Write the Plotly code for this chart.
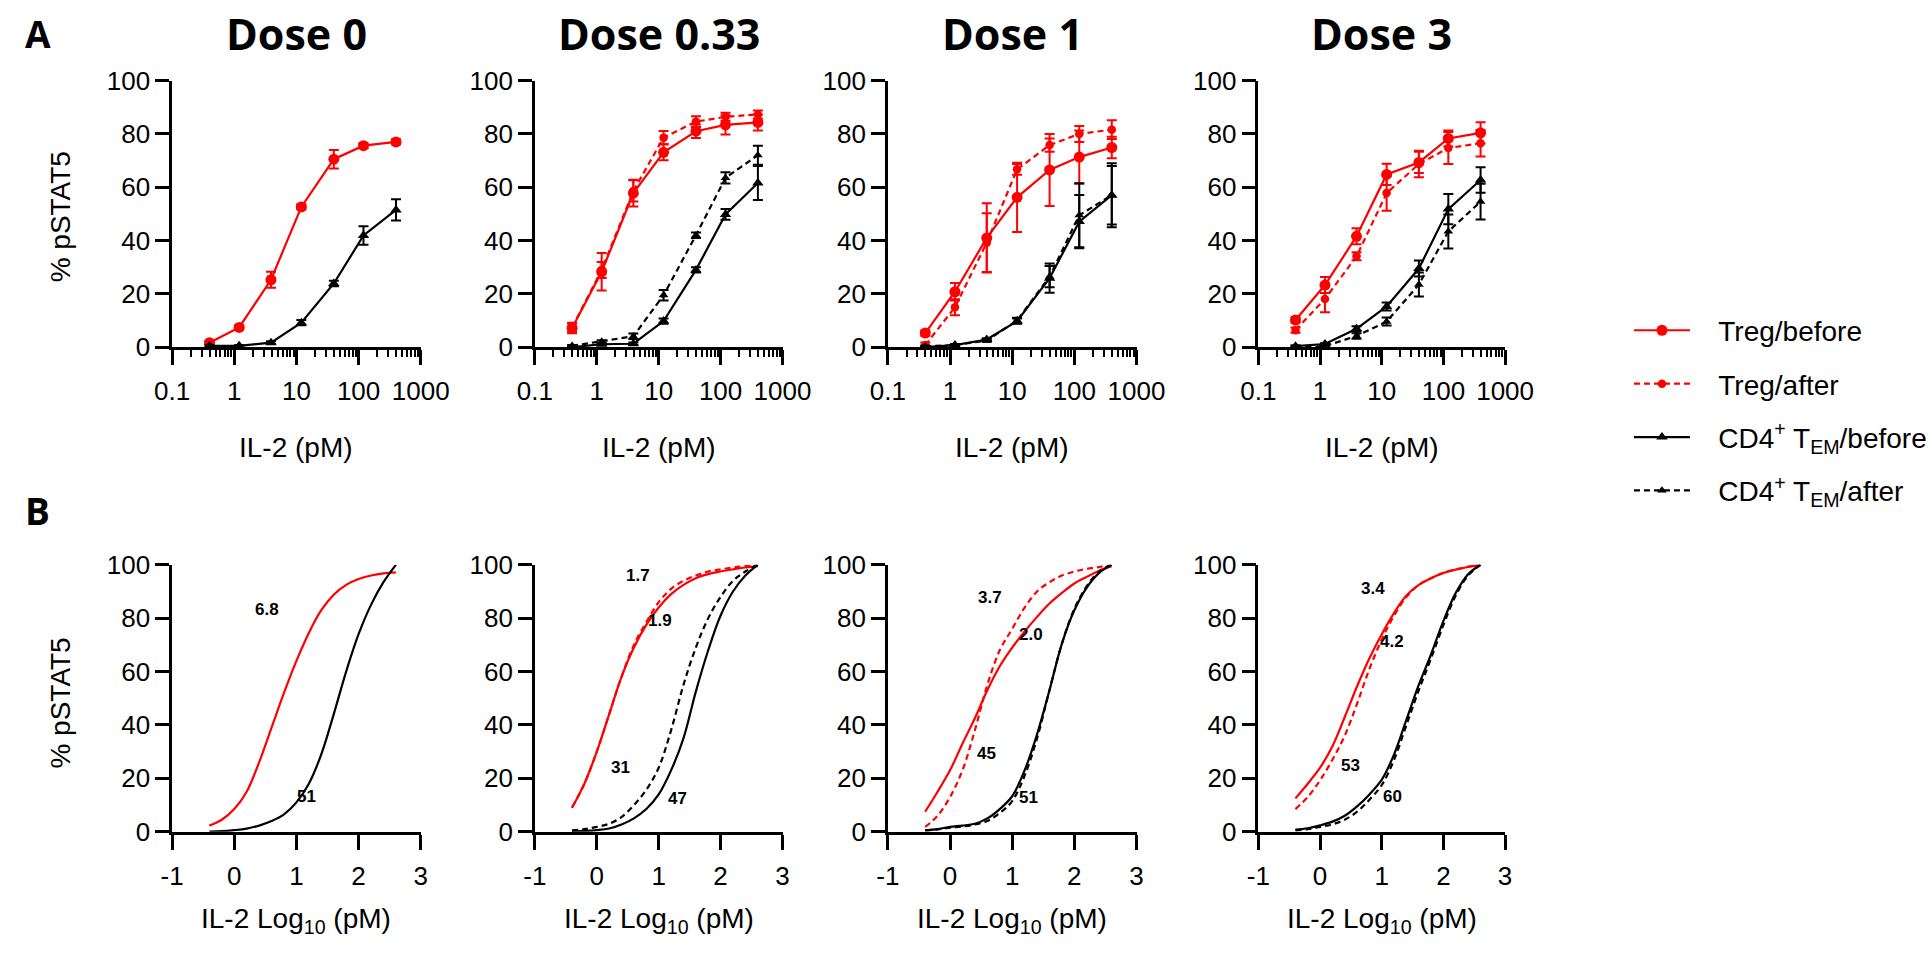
import plotly.graph_objects as go

# ---------------- data ----------------
DOSES = ["Dose 0", "Dose 0.33", "Dose 1", "Dose 3"]
CONC = [0.4, 1.2, 3.9, 12, 40, 120, 400]          # IL-2 (pM)

TREG_BEFORE = [
    [1.7, 7.4, 25.3, 52.6, 70.5, 75.6, 77.0],
    [7.2, 28.3, 57.8, 73.1, 81.0, 83.4, 84.3],
    [5.3, 20.8, 41.0, 56.2, 66.5, 71.3, 74.9],
    [10.2, 23.3, 41.6, 64.8, 69.3, 78.3, 80.4],
]
TREG_BEFORE_ERR = [
    [0.5, 0.8, 3.0, 1.0, 3.5, 1.0, 1.0],
    [2.0, 7.0, 5.0, 3.0, 2.5, 3.6, 3.0],
    [1.0, 3.3, 13.0, 13.0, 13.5, 10.0, 4.0],
    [1.0, 3.0, 3.0, 4.0, 4.0, 3.0, 4.0],
]
TREG_AFTER = [
    None,
    [7.4, 29.0, 58.6, 78.6, 84.6, 86.4, 87.3],
    [0.8, 15.0, 39.2, 66.7, 75.8, 80.0, 81.6],
    [6.4, 18.1, 34.1, 57.8, 68.7, 74.7, 76.5],
]
TREG_AFTER_ERR = [
    None,
    [1.5, 3.0, 4.0, 2.5, 2.0, 1.5, 1.5],
    [1.0, 3.0, 11.0, 2.0, 2.5, 3.0, 3.5],
    [1.0, 5.0, 1.5, 6.6, 5.0, 6.0, 5.0],
]
CD4_BEFORE = [
    [0.5, 0.5, 1.7, 9.2, 23.9, 41.9, 51.5],
    [0.0, 1.1, 1.3, 9.8, 29.0, 49.8, 61.6],
    [0.0, 0.8, 2.9, 9.8, 25.9, 47.1, 57.0],
    [0.4, 1.2, 6.9, 15.3, 29.5, 51.8, 62.7],
]
CD4_BEFORE_ERR = [
    [0.3, 0.3, 0.5, 1.0, 1.0, 3.5, 4.0],
    [0.3, 0.3, 0.5, 1.0, 1.0, 2.0, 6.4],
    [0.3, 0.3, 0.5, 1.0, 5.5, 10.0, 12.0],
    [0.3, 0.3, 1.0, 1.5, 3.0, 5.7, 4.8],
]
CD4_AFTER = [
    None,
    [0.5, 2.1, 4.1, 19.5, 42.0, 63.5, 72.0],
    [0.3, 0.8, 2.5, 10.0, 26.5, 49.5, 57.0],
    [0.0, 0.4, 4.2, 9.6, 23.5, 43.4, 54.6],
]
CD4_AFTER_ERR = [
    None,
    [0.3, 0.5, 1.0, 2.0, 1.0, 2.1, 3.6],
    [0.3, 0.3, 0.5, 1.0, 4.0, 12.0, 11.0],
    [0.3, 0.3, 1.0, 1.5, 4.5, 6.4, 6.7],
]

# Panel B: fitted curves (log10 pM -> % pSTAT5)
LOGX = [-0.4, -0.2, 0.0, 0.2, 0.4, 0.6, 0.8, 1.0, 1.2, 1.4, 1.6, 1.8, 2.0, 2.2, 2.4, 2.6]
FIT_TREG_BEFORE = [
    [2.3, 4.5, 8.5, 15, 26, 39, 52, 64, 74.5, 83, 88.8, 92.5, 94.7, 96, 96.8, 97.2],
    [9, 18, 30, 44, 58, 69, 77.5, 84, 89, 92.5, 95, 96.5, 97.5, 98.3, 99, 99.5],
    [7.5, 15, 23, 33, 42.5, 53, 62, 69, 75, 80.5, 85.5, 89.5, 93, 95.5, 97.8, 99.5],
    [12.5, 18, 24, 32, 43, 54.5, 65, 74, 82, 88.5, 92.5, 95, 97, 98.2, 99.2, 100],
]
FIT_TREG_AFTER = [
    None,
    [9, 18, 30, 44, 58, 70, 78.5, 86, 91, 94, 96, 97.5, 98.3, 99, 99.5, 100],
    [1.8, 6, 13, 23, 38, 55, 68, 76, 84, 90, 93.5, 96, 97.5, 98.5, 99.2, 100],
    [8.5, 13, 19.3, 27, 36, 48, 61, 72, 81, 88, 92.5, 95, 97, 98.3, 99.3, 100],
]
FIT_CD4_BEFORE = [
    [0.1, 0.2, 0.6, 1.2, 2.3, 4, 6.5, 11, 18, 29, 44, 60, 74, 85, 93.5, 100],
    [0.2, 0.3, 0.6, 1.2, 2.7, 5, 8.5, 14, 23, 35, 52.5, 68, 81, 90, 96, 100],
    [0.5, 1, 1.8, 2.3, 3, 5, 8.5, 13.3, 23, 36.5, 53, 70.5, 83, 91.5, 97, 100],
    [0.8, 1.3, 2.4, 3.8, 6, 9.5, 14, 19.5, 29, 42, 55, 66.5, 79, 89.5, 96.5, 100],
]
FIT_CD4_AFTER = [
    None,
    [0.5, 1, 1.8, 3, 5.5, 10, 15.7, 24, 38, 55, 69, 80, 88, 94, 97.5, 100],
    [0.5, 0.9, 1.5, 2, 2.7, 4, 7, 11.5, 21, 35, 53, 70.5, 83.5, 92, 97.5, 100],
    [0.5, 1, 1.8, 2.8, 4.5, 7.5, 12, 17.5, 27, 40, 53, 65, 77.5, 88.5, 96, 100],
]
EC50_TEXT = [
    ["6.8", "51"],
    ["1.7", "1.9", "31", "47"],
    ["3.7", "2.0", "45", "51"],
    ["3.4", "4.2", "53", "60"],
]
EC50_POS = [
    [(0.53, 83.2), (1.16, 13.3)],
    [(0.67, 95.9), (1.02, 79.2), (0.38, 24.0), (1.30, 12.5)],
    [(0.64, 87.7), (1.30, 73.8), (0.59, 29.3), (1.27, 12.7)],
    [(0.86, 91.3), (1.17, 71.3), (0.49, 24.8), (1.17, 13.3)],
]

# ---------------- layout helpers ----------------
W, H = 1932, 953
RED = "#ff0000"
BLK = "#000000"
DASH = "6px,4px"
SANS = "Liberation Sans, Arial, sans-serif"
BOLD = "Open Sans, sans-serif"
NB = "\u00a0\u00a0\u00a0"


def fx(px):
    return px / W


def fy(py):
    return 1 - py / H


X_DOM = [(158, 413), (530, 784), (892, 1147), (1272, 1525)]
TOP_Y = (343, 67.7)
BOT_Y = (843.3, 567.7)

fig = go.Figure()

SERIES = [
    ("Treg/before", TREG_BEFORE, TREG_BEFORE_ERR, RED, "solid", "circle", 11),
    ("Treg/after", TREG_AFTER, TREG_AFTER_ERR, RED, DASH, "circle", 8.5),
    ("CD4<sup>+</sup> T<sub>EM</sub>/before", CD4_BEFORE, CD4_BEFORE_ERR, BLK, "solid", "triangle-up", 10),
    ("CD4<sup>+</sup> T<sub>EM</sub>/after", CD4_AFTER, CD4_AFTER_ERR, BLK, DASH, "triangle-up", 8.5),
]

for i in range(4):
    xa = "x" if i == 0 else f"x{i+1}"
    ya = "y" if i == 0 else f"y{i+1}"
    for name, vals, errs, col, dash, sym, msz in SERIES:
        if vals[i] is None:
            continue
        fig.add_trace(go.Scatter(
            x=CONC, y=vals[i], xaxis=xa, yaxis=ya, mode="lines+markers",
            name=NB + name, legendgroup=name, showlegend=(i == 1),
            line=dict(color=col, width=2.2, dash=dash),
            marker=dict(color=col, symbol=sym, size=msz, line=dict(width=0)),
            error_y=dict(type="data", array=errs[i], color=col, thickness=2, width=5),
            cliponaxis=False,
        ))

CURVES = [
    (FIT_TREG_BEFORE, RED, "solid"),
    (FIT_TREG_AFTER, RED, DASH),
    (FIT_CD4_BEFORE, BLK, "solid"),
    (FIT_CD4_AFTER, BLK, DASH),
]
for i in range(4):
    xa = f"x{i+5}"
    ya = f"y{i+5}"
    for vals, col, dash in CURVES:
        if vals[i] is None:
            continue
        fig.add_trace(go.Scatter(
            x=LOGX, y=vals[i], xaxis=xa, yaxis=ya, mode="lines",
            line=dict(color=col, width=2.2, dash=dash, shape="spline", smoothing=1.0),
            showlegend=False, cliponaxis=False,
        ))

axis_common = dict(
    showline=True, linecolor="black", linewidth=2.5, ticks="outside",
    tickwidth=2.5, tickcolor="black", showgrid=False, zeroline=False,
    tickfont=dict(family=SANS, size=26, color="black"), fixedrange=True,
)

minor_vals = [m * 10 ** k for k in (-1, 0, 1, 2) for m in range(2, 10)]

layout = dict(
    width=W, height=H, margin=dict(l=0, r=0, t=0, b=0),
    paper_bgcolor="white", plot_bgcolor="white",
    showlegend=True,
    legend=dict(
        x=fx(1652), y=fy(300), xanchor="left", yanchor="top",
        font=dict(family=SANS, size=28, color="black"),
        tracegroupgap=14, itemwidth=56, bgcolor="rgba(0,0,0,0)",
        traceorder="grouped",
    ),
)

for i in range(4):
    sx = "" if i == 0 else str(i + 1)
    layout[f"xaxis{sx}"] = dict(
        axis_common, domain=[fx(X_DOM[i][0]), fx(X_DOM[i][1])], anchor=f"y{sx}",
        type="log", range=[-1, 3], tickmode="array",
        tickvals=[0.1, 1, 10, 100, 1000], ticktext=["0.1", "1", "10", "100", "1000"],
        ticklen=15, ticklabelstandoff=4,
        minor=dict(ticks="outside", ticklen=7, tickwidth=2, tickcolor="black",
                   tickmode="array", tickvals=minor_vals, showgrid=False),
    )
    layout[f"yaxis{sx}"] = dict(
        axis_common, domain=[fy(TOP_Y[0]), fy(TOP_Y[1])], anchor=f"x{sx}",
        range=[0, 100], tickmode="array", tickvals=[0, 20, 40, 60, 80, 100],
        ticklen=14,
    )
    bx = str(i + 5)
    layout[f"xaxis{bx}"] = dict(
        axis_common, domain=[fx(X_DOM[i][0]), fx(X_DOM[i][1])], anchor=f"y{bx}",
        range=[-1, 3], tickmode="array", tickvals=[-1, 0, 1, 2, 3],
        ticktext=["-1", "0", "1", "2", "3"],
        ticklen=15, ticklabelstandoff=4,
    )
    layout[f"yaxis{bx}"] = dict(
        axis_common, domain=[fy(BOT_Y[0]), fy(BOT_Y[1])], anchor=f"x{bx}",
        range=[0, 100], tickmode="array", tickvals=[0, 20, 40, 60, 80, 100],
        ticklen=14,
    )

annotations = []
for i in range(4):
    cx = (X_DOM[i][0] + X_DOM[i][1]) / 2
    annotations.append(dict(
        text=f"<b>{DOSES[i]}</b>", x=fx(cx), y=fy(19), xref="paper", yref="paper",
        showarrow=False, font=dict(family=BOLD, size=43, color="black"),
        xanchor="center", yanchor="middle",
    ))
    annotations.append(dict(
        text="IL-2 (pM)", x=fx(cx), y=fy(447), xref="paper", yref="paper",
        showarrow=False, font=dict(family=SANS, size=28, color="black"),
        xanchor="center", yanchor="middle",
    ))
    annotations.append(dict(
        text="IL-2 Log<sub>10</sub> (pM)", x=fx(cx), y=fy(935), xref="paper", yref="paper",
        showarrow=False, font=dict(family=SANS, size=28, color="black"),
        xanchor="center", yanchor="middle",
    ))
    for txt, (ex, ey) in zip(EC50_TEXT[i], EC50_POS[i]):
        annotations.append(dict(
            text=f"<b>{txt}</b>", x=ex, y=ey, xref=f"x{i+5}", yref=f"y{i+5}",
            showarrow=False, font=dict(family=SANS, size=17, color="black"),
            xanchor="center", yanchor="middle",
        ))

for py in (208, 710):
    annotations.append(dict(
        text="% pSTAT5", x=fx(44), y=fy(py), xref="paper", yref="paper",
        showarrow=False, textangle=-90, font=dict(family=SANS, size=28, color="black"),
        xanchor="center", yanchor="middle",
    ))
annotations.append(dict(text="<b>A</b>", x=fx(21), y=fy(19), xref="paper", yref="paper",
                        showarrow=False, font=dict(family=BOLD, size=37, color="black"),
                        xanchor="center", yanchor="middle"))
annotations.append(dict(text="<b>B</b>", x=fx(20), y=fy(512), xref="paper", yref="paper",
                        showarrow=False, font=dict(family=BOLD, size=37, color="black"),
                        xanchor="center", yanchor="middle"))

layout["annotations"] = annotations
fig.update_layout(**layout)
fig.write_html(
    "out.html",
    config={"displayModeBar": False},
    post_script="document.body.style.margin='0';document.body.style.overflow='hidden';",
)
